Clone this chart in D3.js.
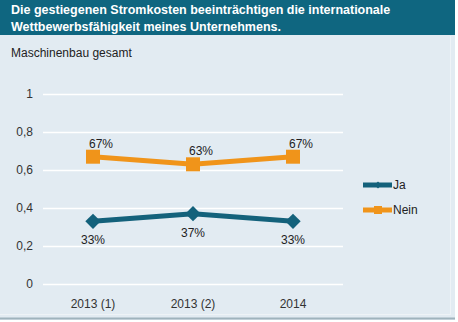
<!DOCTYPE html>
<html>
<head>
<meta charset="utf-8">
<script src="https://cdn.jsdelivr.net/npm/d3@7"></script>
<style>
body { margin: 0; background: #fff; }
svg { display: block; font-family: "Liberation Sans", Arial, sans-serif; }
</style>
</head>
<body>
<svg width="458" height="322"></svg>
<script>
var categories = ["2013 (1)", "2013 (2)", "2014"];
var ja = [0.33, 0.37, 0.33];
var nein = [0.67, 0.63, 0.67];
var yTicks = [0, 0.2, 0.4, 0.6, 0.8, 1];
var seriesNames = ["Ja", "Nein"];
var seriesColors = ["#13617b", "#f0941a"];

var svg = d3.select("svg");

// background panel + header
svg.append("rect").attr("x", 0).attr("y", 0).attr("width", 455).attr("height", 320).attr("fill", "#e2ebf2");
svg.append("rect").attr("x", 0).attr("y", 0).attr("width", 455).attr("height", 35).attr("fill", "#0f6680");
svg.append("line").attr("x1", 0).attr("x2", 455).attr("y1", 318.5).attr("y2", 318.5).attr("stroke", "#9fb3bd").attr("stroke-width", 2);
svg.append("line").attr("x1", 0).attr("x2", 450).attr("y1", 314.5).attr("y2", 314.5).attr("stroke", "#eef3f7");
svg.append("line").attr("x1", 450.5).attr("x2", 450.5).attr("y1", 36).attr("y2", 315).attr("stroke", "#eef3f7");

var title = svg.append("text").attr("fill", "#fff").attr("font-weight", "bold").attr("font-size", 12.5);
title.append("tspan").attr("x", 11).attr("y", 14).text("Die gestiegenen Stromkosten beeinträchtigen die internationale");
title.append("tspan").attr("x", 11).attr("y", 31).text("Wettbewerbsfähigkeit meines Unternehmens.");

svg.append("text").attr("x", 11).attr("y", 57).attr("font-size", 12).attr("fill", "#222").text("Maschinenbau gesamt");

var x = d3.scaleBand().domain(categories).range([43, 343]);
var y = d3.scaleLinear().domain([0, 1]).range([284, 94]);

var grid = svg.append("g");
grid.selectAll("line").data(yTicks).enter().append("line")
	.attr("x1", 43).attr("x2", 343)
	.attr("y1", function(d) { return Math.round(y(d)) + 0.5; })
	.attr("y2", function(d) { return Math.round(y(d)) + 0.5; })
	.attr("stroke", "#fff").attr("stroke-width", 1.5);

var yAxis = svg.append("g").attr("transform", "translate(43,0)")
	.call(d3.axisLeft(y).tickValues(yTicks).tickSize(0).tickPadding(10)
		.tickFormat(function(d) { return d3.format(".1f")(d).replace(".", ",").replace(/^0,0$/, "0").replace(/^1,0$/, "1"); }));
yAxis.select(".domain").remove();
yAxis.selectAll("text").attr("font-size", 12).attr("fill", "#333").attr("font-family", "Liberation Sans, Arial, sans-serif");

var xAxis = svg.append("g").attr("transform", "translate(0,284)")
	.call(d3.axisBottom(x).tickSize(0).tickPadding(15));
xAxis.select(".domain").remove();
xAxis.selectAll("text").attr("font-size", 12).attr("fill", "#333").attr("font-family", "Liberation Sans, Arial, sans-serif");

var cx = function(d, i) { return x(categories[i]) + x.bandwidth() / 2; };
var line = d3.line().x(cx).y(function(d) { return y(d); });

var data = [ja, nein];
data.forEach(function(vals, s) {
	svg.append("path").datum(vals).attr("d", line)
		.attr("fill", "none").attr("stroke", seriesColors[s]).attr("stroke-width", 5);
});

// markers
svg.selectAll(".ja").data(ja).enter().append("path")
	.attr("d", d3.symbol().type(d3.symbolDiamond2).size(150))
	.attr("transform", function(d, i) { return "translate(" + cx(d, i) + "," + y(d) + ")"; })
	.attr("fill", seriesColors[0]);
svg.selectAll(".nein").data(nein).enter().append("rect")
	.attr("x", function(d, i) { return cx(d, i) - 7; })
	.attr("y", function(d) { return y(d) - 7; })
	.attr("width", 14).attr("height", 14)
	.attr("fill", seriesColors[1]);

// labels
svg.selectAll(".jalab").data(ja).enter().append("text")
	.attr("x", cx).attr("y", function(d) { return y(d) + 23; })
	.attr("text-anchor", "middle").attr("font-size", 12).attr("fill", "#222")
	.text(function(d) { return Math.round(d * 100) + "%"; });
svg.selectAll(".neinlab").data(nein).enter().append("text")
	.attr("x", function(d, i) { return cx(d, i) + 8; }).attr("y", function(d) { return y(d) - 9; })
	.attr("text-anchor", "middle").attr("font-size", 12).attr("fill", "#222")
	.text(function(d) { return Math.round(d * 100) + "%"; });

// legend
var legend = svg.append("g");
seriesNames.forEach(function(n, i) {
	var ly = 185 + i * 25;
	legend.append("line").attr("x1", 363).attr("x2", 392).attr("y1", ly).attr("y2", ly)
		.attr("stroke", seriesColors[i]).attr("stroke-width", 5);
	if (i == 0) {
		legend.append("path").attr("d", d3.symbol().type(d3.symbolDiamond2).size(30))
			.attr("transform", "translate(378," + ly + ")").attr("fill", seriesColors[i]);
	} else {
		legend.append("rect").attr("x", 374).attr("y", ly - 4).attr("width", 8).attr("height", 8).attr("fill", seriesColors[i]);
	}
	legend.append("text").attr("x", 393).attr("y", ly + 4).attr("font-size", 12).attr("fill", "#222").text(n);
});
</script>
</body>
</html>
